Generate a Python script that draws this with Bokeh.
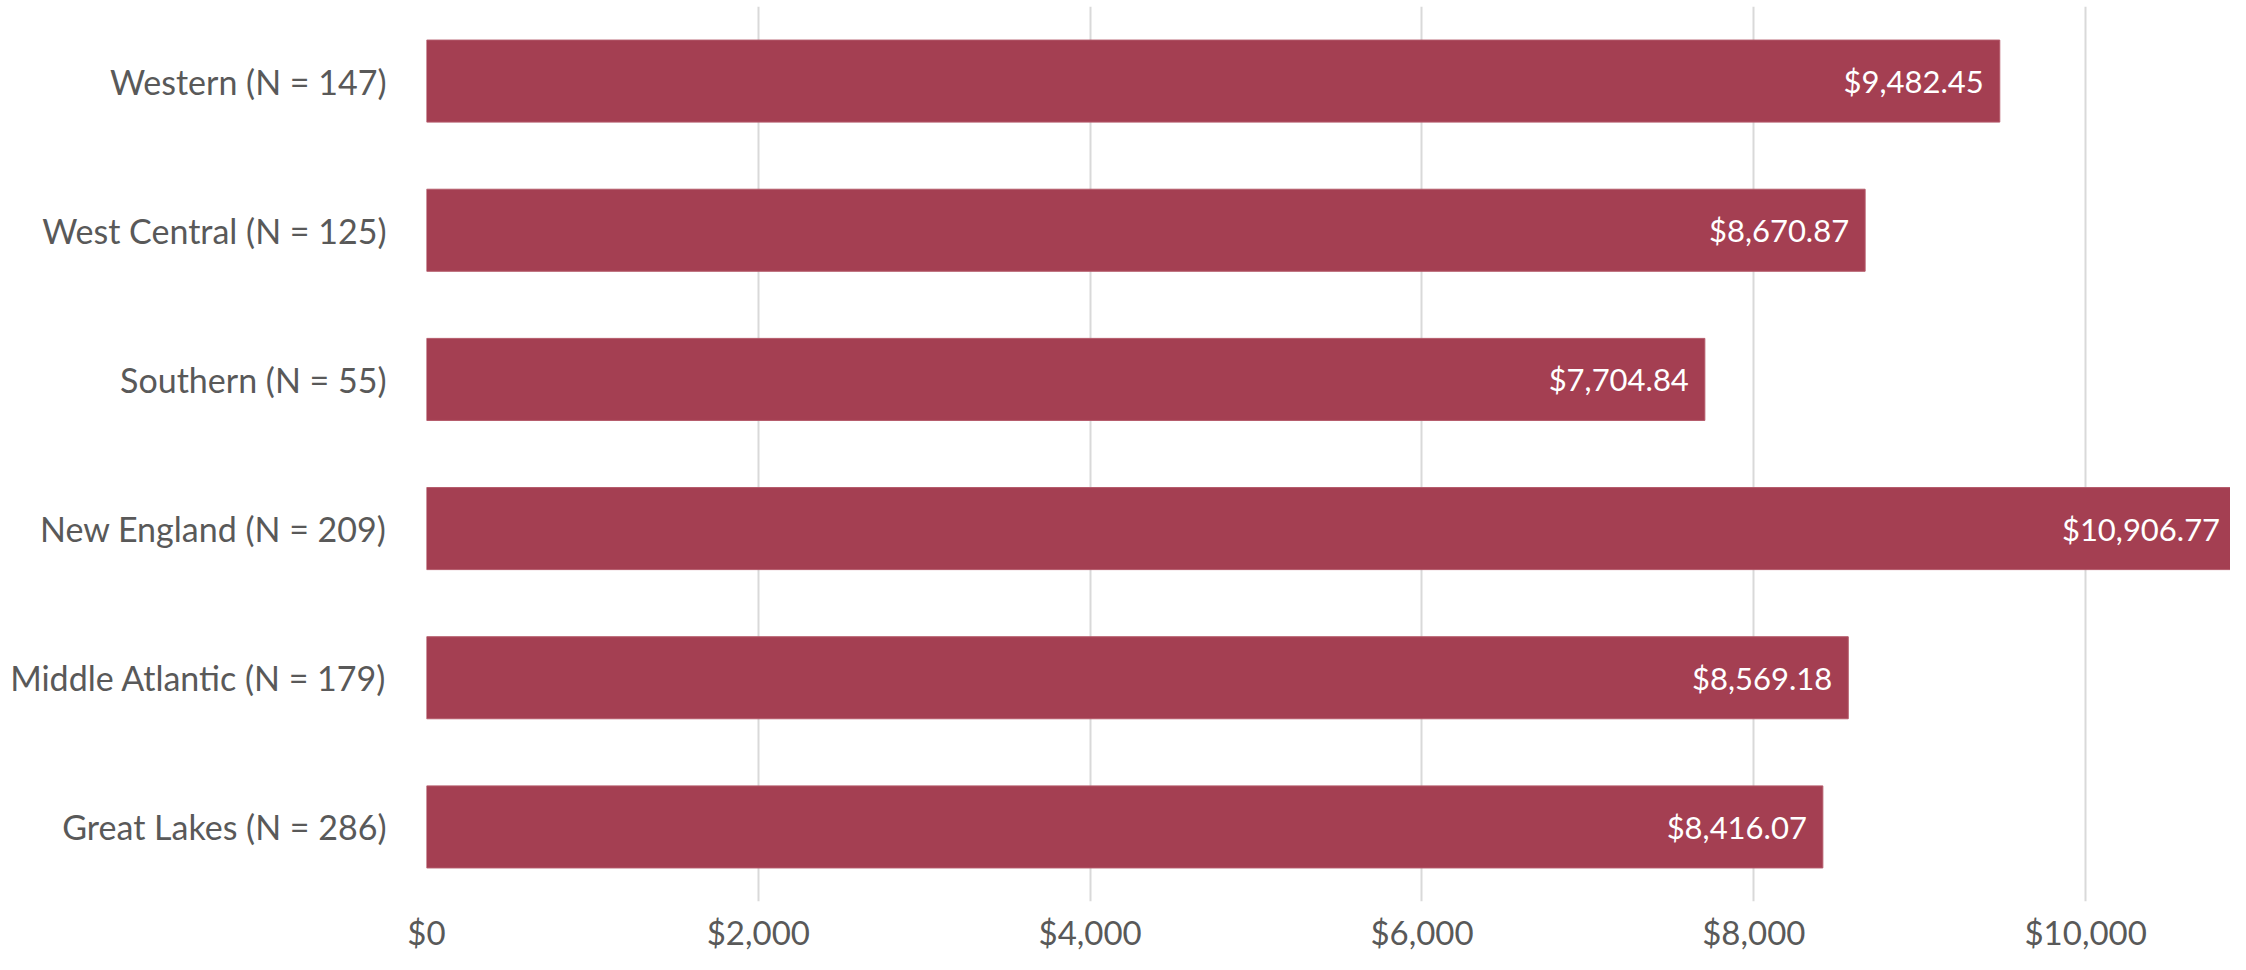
from bokeh.plotting import figure
from bokeh.models import ColumnDataSource, FactorRange, FixedTicker, NumeralTickFormatter, Range1d
from bokeh.core.properties import value
from bokeh.embed import file_html
from bokeh.resources import INLINE

regions = ["Western (N = 147)", "West Central (N = 125)", "Southern (N = 55)",
           "New England (N = 209)", "Middle Atlantic (N = 179)", "Great Lakes (N = 286)"]
amounts = [9482.45, 8670.87, 7704.84, 10906.77, 8569.18, 8416.07]
tick_values = [0, 2000, 4000, 6000, 8000, 10000]

labels = ["${:,.2f}".format(a) for a in amounts]
src = ColumnDataSource(dict(region=regions, amount=amounts, label=labels))

FONT = "Lato"
GREY = "#595959"

p = figure(width=2230, height=954, output_backend="svg", toolbar_location=None,
           y_range=FactorRange(factors=list(reversed(regions)), range_padding=0),
           x_range=Range1d(0, 10873),
           min_border_left=426, min_border_right=0, min_border_top=6, min_border_bottom=0)
p.outline_line_color = None
p.background_fill_color = "white"

p.hbar(y="region", right="amount", left=0, height=0.55, source=src,
       fill_color="#A43F52", line_color="#B45A6A", line_width=1)

p.text(x="amount", y="region", text="label", source=src, x_offset=-16,
       text_align="right", text_baseline="middle", text_color="white",
       text_font=value(FONT), text_font_size="31px")

p.xaxis.ticker = FixedTicker(ticks=tick_values)
p.xaxis.formatter = NumeralTickFormatter(format="$0,0")
p.xgrid.ticker = FixedTicker(ticks=tick_values)
p.xgrid.grid_line_color = "#D9D9D9"
p.xgrid.grid_line_width = 2
p.ygrid.grid_line_color = None

for ax in (p.xaxis, p.yaxis):
    ax.axis_line_color = None
    ax.major_tick_line_color = None
    ax.minor_tick_line_color = None
    ax.major_label_text_font = FONT
    ax.major_label_text_color = GREY
p.xaxis.major_label_text_font_size = "33px"
p.yaxis.major_label_text_font_size = "34px"
p.xaxis.major_label_standoff = 4
p.yaxis.major_label_standoff = 34

open("out.html", "w").write(file_html(p, INLINE))
